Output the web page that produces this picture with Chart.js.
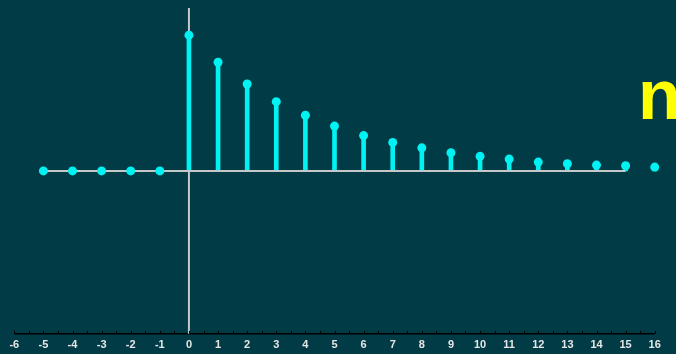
<!DOCTYPE html>
<html>
<head>
<meta charset="utf-8">
<script src="https://cdn.jsdelivr.net/npm/chart.js@4"></script>
<style>
  html, body { margin: 0; padding: 0; background: #003b46; }
  #wrap { position: relative; width: 676px; height: 354px; overflow: hidden; }
  #label {
    position: absolute; left: 638px; top: 55px;
    font-family: "Liberation Sans", Arial, sans-serif; font-weight: bold;
    font-size: 70px; line-height: 80px; color: #ffff00;
  }
</style>
</head>
<body>
<div id="wrap">
  <canvas id="chart" width="676" height="354"></canvas>
  <div id="label">n</div>
</div>
<script>
// sample index and amplitude
const nIndex = [-5, -4, -3, -2, -1, 0, 1, 2, 3, 4, 5, 6, 7, 8, 9, 10, 11, 12, 13, 14, 15, 16];
const amplitude = [0, 0, 0, 0, 0, 1, 0.8, 0.64, 0.51, 0.41, 0.33, 0.26, 0.21, 0.17, 0.134, 0.107, 0.087, 0.065, 0.053, 0.043, 0.038, 0.028];
const xMin = -6;
const xMax = 16;
const yMin = -1.2;
const yMax = 1.2;
const baselineRange = [-5, 15];

const cyan = "#00f2f2";
const gray = "#c4c8c8";

const points = nIndex.map((n, i) => ({ x: n, y: amplitude[i] }));

// small tick marks sitting on top of the bottom axis line
const upTicks = {
  id: "upTicks",
  afterDatasetsDraw(chart) {
    const { ctx, scales } = chart;
    const x = scales.x;
    const yPix = scales.y.getPixelForValue(yMin);
    ctx.save();
    ctx.strokeStyle = "#000000";
    ctx.lineWidth = 1;
    x.ticks.forEach((t) => {
      const px = Math.round(x.getPixelForValue(t.value)) + 0.5;
      ctx.beginPath();
      ctx.moveTo(px, yPix - 3);
      ctx.lineTo(px, yPix);
      ctx.stroke();
    });
    ctx.restore();
  },
};

new Chart(document.getElementById("chart"), {
  data: {
    datasets: [
      {
        // bottom axis line, only between -6 and 16
        type: "line",
        data: [{ x: xMin, y: yMin }, { x: xMax, y: yMin }],
        borderColor: "#000000",
        borderWidth: 1.5,
        pointRadius: 0,
        clip: false,
        order: 5,
      },
      {
        type: "line",
        data: [{ x: 0, y: yMin }, { x: 0, y: yMax }],
        borderColor: gray,
        borderWidth: 2,
        pointRadius: 0,
        clip: false,
        order: 4,
      },
      {
        type: "bar",
        data: points,
        backgroundColor: cyan,
        barThickness: 4,
        order: 3,
      },
      {
        type: "line",
        data: baselineRange.map((x) => ({ x: x, y: 0 })),
        borderColor: gray,
        borderWidth: 2,
        pointRadius: 0,
        order: 2,
      },
      {
        type: "line",
        data: points,
        showLine: false,
        pointRadius: 4.5,
        pointBackgroundColor: cyan,
        pointBorderWidth: 0,
        order: 1,
      },
    ],
  },
  options: {
    responsive: false,
    animation: false,
    layout: { padding: { left: 7, right: 14, top: 8, bottom: 0 } },
    plugins: { legend: { display: false }, tooltip: { enabled: false } },
    scales: {
      x: {
        type: "linear",
        min: xMin,
        max: xMax,
        grid: { drawOnChartArea: false, tickLength: 3, color: "rgba(0,0,0,0)" },
        border: { display: false },
        ticks: {
          stepSize: 0.5,
          autoSkip: false,
          maxRotation: 0,
          padding: 2,
          color: "#e6e6e6",
          font: { family: "Liberation Sans", size: 11, weight: "bold" },
          callback: (v) => (Number.isInteger(v) ? String(v) : ""),
        },
      },
      y: { display: false, min: yMin, max: yMax },
    },
  },
  plugins: [upTicks],
});
</script>
</body>
</html>
